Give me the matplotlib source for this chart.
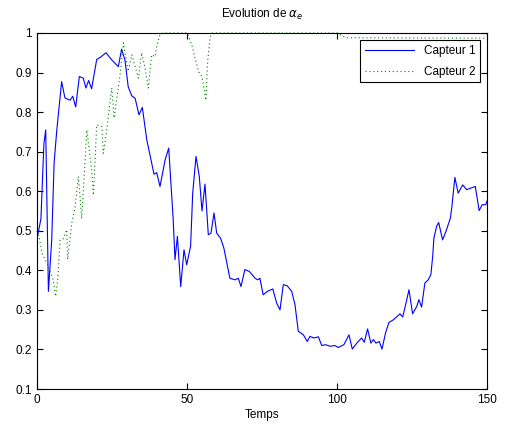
import numpy as np
import matplotlib
matplotlib.use("Agg")
import matplotlib.pyplot as plt
from matplotlib.ticker import FuncFormatter

plt.rcParams['font.family'] = ['Liberation Sans', 'DejaVu Sans']

# Capteur 1 (bleu)
t1 = [0, 1.3, 2.3, 2.9, 3.8, 4.9, 5.7, 6.6, 8.2, 9.3, 11, 11.9, 12.9, 14.1, 15.4, 16.3, 17.2, 18.2,
      19.9, 21.2, 23, 24.9, 27.1, 28.2, 29.3, 30.4, 31.6, 32.7, 34, 35.1, 36.6, 37.7, 39, 39.9, 41,
      42.7, 43.9, 45.4, 46, 46.8, 47.9, 49, 49.9, 51.2, 51.9, 53, 54.1, 55, 56, 57.1, 58, 59, 59.9,
      61.2, 62.3, 64.3, 66, 67.1, 68, 69.3, 70.8, 72.7, 73.6, 74.3, 75.4, 76.8, 78.6, 79.9, 81, 82.1,
      83.4, 84.9, 86, 87.1, 88.8, 90.1, 91, 92.3, 93.8, 94.9, 96.2, 97.7, 99.3, 100.4, 102.3, 104,
      105.1, 106.6, 108.2, 109.1, 110.2, 111.3, 112.1, 113, 114.1, 115, 116.2, 117.3, 118.8, 120.1,
      121, 121.9, 123, 124, 125.2, 126.6, 127.3, 128.2, 129.3, 130.4, 131.3, 131.9, 132.3, 133.2,
      133.9, 135.2, 136.3, 137.8, 138.3, 139.3, 140.4, 141.9, 143.2, 144.7, 146.1, 147.4, 148.4,
      149.6, 150]
c1 = [0.48, 0.53, 0.72, 0.755, 0.347, 0.477, 0.672, 0.755, 0.877, 0.836, 0.83, 0.84, 0.813, 0.89,
      0.886, 0.861, 0.88, 0.859, 0.933, 0.939, 0.95, 0.932, 0.915, 0.959, 0.932, 0.864, 0.841, 0.835,
      0.793, 0.812, 0.73, 0.69, 0.643, 0.647, 0.612, 0.679, 0.709, 0.528, 0.427, 0.486, 0.359, 0.452,
      0.414, 0.461, 0.595, 0.688, 0.637, 0.55, 0.618, 0.49, 0.494, 0.545, 0.494, 0.481, 0.456, 0.38,
      0.376, 0.38, 0.359, 0.402, 0.397, 0.38, 0.376, 0.38, 0.338, 0.347, 0.353, 0.317, 0.3, 0.364,
      0.361, 0.347, 0.313, 0.246, 0.237, 0.22, 0.233, 0.229, 0.232, 0.21, 0.212, 0.208, 0.21, 0.205,
      0.212, 0.237, 0.201, 0.216, 0.229, 0.218, 0.252, 0.216, 0.225, 0.216, 0.22, 0.201, 0.242, 0.268,
      0.275, 0.284, 0.29, 0.282, 0.317, 0.351, 0.29, 0.309, 0.326, 0.307, 0.368, 0.376, 0.389, 0.435,
      0.481, 0.511, 0.521, 0.477, 0.498, 0.532, 0.561, 0.635, 0.595, 0.616, 0.604, 0.608, 0.612,
      0.551, 0.566, 0.566, 0.575]

# Capteur 2 (vert)
t2 = [0, 0.7, 1.6, 3.8, 5.4, 6.2, 6.9, 7.7, 8.8, 9.9, 10.2, 11.6, 12.7, 13.8, 14.9, 16.6, 18.2,
      18.8, 19.9, 21.6, 22.1, 23.2, 24.3, 24.9, 25.7, 27.7, 28.8, 30.4, 31.6, 33.8, 34.9, 36, 37.1,
      38.2, 39.3, 39.9, 41, 42, 50, 51.6, 52.7, 53.8, 55, 56.3, 56.9, 57.7, 58.5, 100, 103, 150]
c2 = [0.5, 0.486, 0.444, 0.41, 0.376, 0.334, 0.376, 0.477, 0.48, 0.503, 0.427, 0.52, 0.561, 0.637,
      0.53, 0.755, 0.654, 0.59, 0.768, 0.763, 0.696, 0.752, 0.822, 0.861, 0.785, 0.895, 0.975, 0.903,
      0.945, 0.886, 0.95, 0.912, 0.861, 0.945, 0.94, 0.966, 0.996, 1.0, 1.0, 0.97, 0.937, 0.903, 0.89,
      0.83, 0.929, 0.99, 1.0, 1.0, 0.988, 0.987]

fig = plt.figure(figsize=(5.05, 4.3), dpi=100)
ax = fig.add_axes([0.0733, 0.0953, 0.891, 0.828])

ax.plot(t1, c1, color='#0000ff', linewidth=0.8, label='Capteur 1')
ax.plot(t2, c2, color='#008000', linewidth=0.8, linestyle=(0, (1, 2.5)), label='Capteur 2',
        clip_on=False)

ax.set_xlim(0, 150)
ax.set_ylim(0.1, 1)
ax.set_xticks([0, 50, 100, 150])
ax.set_yticks(np.round(np.arange(0.1, 1.01, 0.1), 1))
ax.yaxis.set_major_formatter(FuncFormatter(lambda v, p: '%g' % v))
ax.tick_params(direction='in', top=True, right=True, labelsize=8.5, length=4, width=0.8)
for s in ax.spines.values():
    s.set_linewidth(0.8)

ax.set_title(r'Evolution de $\alpha_e$', fontsize=8.5, pad=11)
ax.set_xlabel('Temps', fontsize=8.5, labelpad=2)

leg = ax.legend(loc='upper right', fontsize=8.5, fancybox=False, framealpha=1,
                edgecolor='black', borderaxespad=0.6, handlelength=4.2, labelspacing=0.75)
leg.get_frame().set_linewidth(0.8)

fig.savefig('out.png', dpi=100)
